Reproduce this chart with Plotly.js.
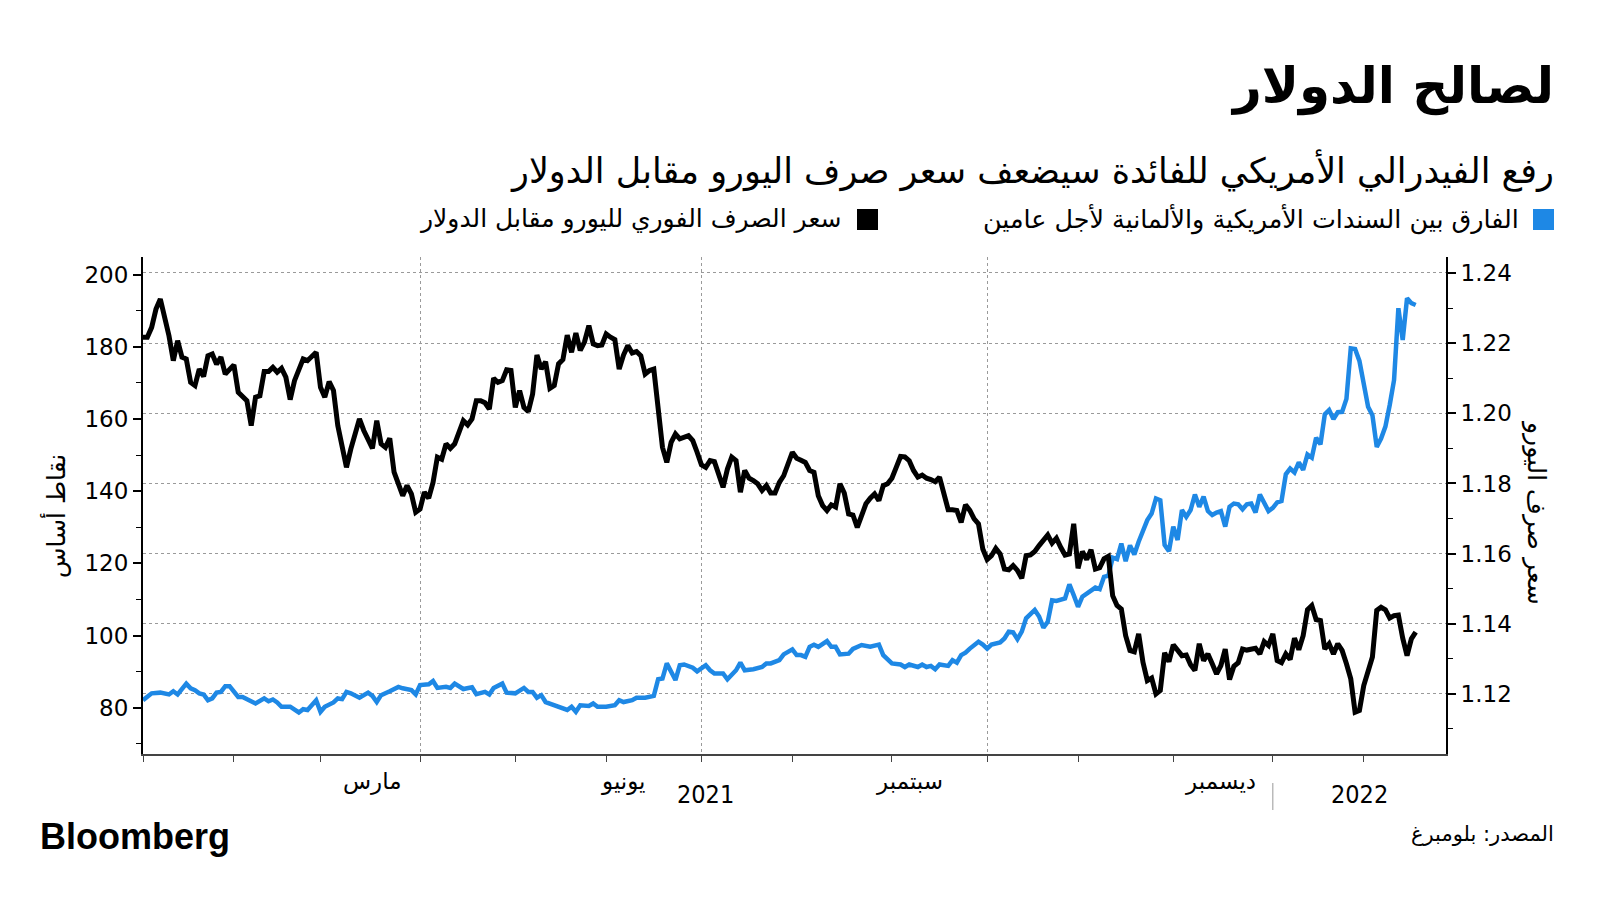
<!DOCTYPE html>
<html>
<head>
<meta charset="utf-8">
<script src="https://cdn.plot.ly/plotly-3.0.1.min.js"></script>
<style>
html,body{margin:0;padding:0;background:#fff;}
#chart{width:1600px;height:900px;}
</style>
</head>
<body>
<div id="chart"></div>
<script>
// EUR/USD spot (right axis)
const eurDates = ['2021-01-01','2021-01-04','2021-01-05','2021-01-06','2021-01-07','2021-01-08','2021-01-11','2021-01-12','2021-01-13','2021-01-14','2021-01-15','2021-01-18','2021-01-19','2021-01-20','2021-01-21','2021-01-22','2021-01-25','2021-01-26','2021-01-27','2021-01-28',
'2021-02-01','2021-02-02','2021-02-04','2021-02-05','2021-02-08','2021-02-09','2021-02-10','2021-02-11','2021-02-12','2021-02-15','2021-02-16','2021-02-17','2021-02-18','2021-02-19','2021-02-23','2021-02-24','2021-02-26',
'2021-03-01','2021-03-02','2021-03-03','2021-03-04','2021-03-05','2021-03-08','2021-03-09','2021-03-10','2021-03-12','2021-03-15','2021-03-17','2021-03-18','2021-03-19','2021-03-22','2021-03-23','2021-03-24','2021-03-26','2021-03-29','2021-03-30','2021-03-31',
'2021-04-01','2021-04-02','2021-04-05','2021-04-06','2021-04-07','2021-04-08','2021-04-09','2021-04-12','2021-04-13','2021-04-15','2021-04-16','2021-04-19','2021-04-20','2021-04-21','2021-04-22','2021-04-23','2021-04-26','2021-04-27','2021-04-28','2021-04-29','2021-04-30',
'2021-05-03','2021-05-04','2021-05-05','2021-05-06','2021-05-07','2021-05-10','2021-05-11','2021-05-12','2021-05-13','2021-05-14','2021-05-17','2021-05-18','2021-05-19','2021-05-20','2021-05-21','2021-05-24','2021-05-25','2021-05-26','2021-05-27','2021-05-28','2021-05-31',
'2021-06-01','2021-06-02','2021-06-03','2021-06-04','2021-06-07','2021-06-08','2021-06-09','2021-06-10','2021-06-11','2021-06-14','2021-06-15','2021-06-16','2021-06-17','2021-06-18','2021-06-21','2021-06-22','2021-06-23','2021-06-24','2021-06-28','2021-06-29','2021-06-30',
'2021-07-01','2021-07-02','2021-07-05','2021-07-06','2021-07-07','2021-07-08','2021-07-09','2021-07-12','2021-07-13','2021-07-14','2021-07-15','2021-07-16','2021-07-19','2021-07-20','2021-07-21','2021-07-22','2021-07-23','2021-07-26','2021-07-27','2021-07-28','2021-07-30',
'2021-08-02','2021-08-03','2021-08-04','2021-08-05','2021-08-06','2021-08-09','2021-08-10','2021-08-11','2021-08-12','2021-08-13','2021-08-16','2021-08-17','2021-08-18','2021-08-19','2021-08-20','2021-08-23','2021-08-24','2021-08-25','2021-08-26','2021-08-27','2021-08-30','2021-08-31',
'2021-09-01','2021-09-02','2021-09-03','2021-09-06','2021-09-07','2021-09-08','2021-09-09','2021-09-10','2021-09-13','2021-09-14','2021-09-15','2021-09-16','2021-09-17','2021-09-20','2021-09-21','2021-09-22','2021-09-23','2021-09-24','2021-09-27','2021-09-28','2021-09-29','2021-09-30',
'2021-10-01','2021-10-04','2021-10-05','2021-10-06','2021-10-07','2021-10-08','2021-10-11','2021-10-12','2021-10-13','2021-10-14','2021-10-15','2021-10-18','2021-10-19','2021-10-20','2021-10-21','2021-10-22','2021-10-25','2021-10-26','2021-10-27','2021-10-28','2021-10-29',
'2021-11-01','2021-11-02','2021-11-03','2021-11-04','2021-11-05','2021-11-08','2021-11-09','2021-11-10','2021-11-11','2021-11-12','2021-11-15','2021-11-16','2021-11-17','2021-11-18','2021-11-19','2021-11-22','2021-11-23','2021-11-24','2021-11-25','2021-11-26','2021-11-29','2021-11-30',
'2021-12-01','2021-12-02','2021-12-03','2021-12-06','2021-12-07','2021-12-08','2021-12-09','2021-12-10','2021-12-13','2021-12-14','2021-12-15','2021-12-16','2021-12-17','2021-12-20','2021-12-21','2021-12-22','2021-12-23','2021-12-24','2021-12-27','2021-12-28','2021-12-29','2021-12-30','2021-12-31',
'2022-01-03','2022-01-04','2022-01-05','2022-01-06','2022-01-07','2022-01-10','2022-01-11','2022-01-12','2022-01-13','2022-01-14','2022-01-17','2022-01-18','2022-01-19','2022-01-20','2022-01-21','2022-01-24','2022-01-25','2022-01-26','2022-01-27','2022-01-28','2022-01-31',
'2022-02-01','2022-02-02','2022-02-03','2022-02-04','2022-02-07','2022-02-08','2022-02-09','2022-02-10','2022-02-11','2022-02-14','2022-02-15','2022-02-16','2022-02-17'];
const eurValues = [1.2217,1.2217,1.2245,1.2297,1.2326,1.2274,1.2221,1.2150,1.2207,1.2160,1.2155,1.2088,1.2079,1.2126,1.2105,1.2164,1.2169,1.2140,1.2160,1.2112,
1.2138,1.2060,1.2036,1.1965,1.2046,1.2050,1.2119,1.2119,1.2131,1.2117,1.2128,1.2103,1.2039,1.2093,1.2155,1.2150,1.2174,
1.2074,1.2046,1.2090,1.2065,1.1965,1.1908,1.1846,1.1898,1.1984,1.1951,1.1900,1.1979,1.1913,1.1903,1.1929,1.1832,1.1765,1.1794,1.1770,1.1718,
1.1727,1.1775,1.1758,1.1803,1.1875,1.1869,1.1913,1.1900,1.1913,1.1979,1.1967,1.1984,1.2036,1.2036,1.2030,1.2012,1.2100,1.2088,1.2093,1.2124,1.2122,
1.2017,1.2065,1.2017,1.2005,1.2055,1.2166,1.2126,1.2147,1.2071,1.2079,1.2141,1.2153,1.2223,1.2174,1.2229,1.2179,1.2204,1.2250,1.2198,1.2193,1.2195,
1.2226,1.2217,1.2210,1.2126,1.2166,1.2193,1.2172,1.2176,1.2164,1.2112,1.2122,1.2126,1.2003,1.1903,1.1860,1.1917,1.1941,1.1927,1.1936,1.1922,1.1889,
1.1853,1.1846,1.1865,1.1862,1.1822,1.1789,1.1841,1.1875,1.1865,1.1775,1.1837,1.1815,1.1808,1.1799,1.1780,1.1794,1.1773,1.1773,1.1803,1.1822,1.1889,
1.1872,1.1866,1.1860,1.1837,1.1832,1.1765,1.1737,1.1723,1.1739,1.1733,1.1799,1.1773,1.1713,1.1710,1.1675,1.1708,1.1742,1.1758,1.1770,1.1751,1.1794,1.1799,
1.1815,1.1846,1.1877,1.1876,1.1865,1.1837,1.1818,1.1824,1.1815,1.1811,1.1805,1.1818,1.1767,1.1725,1.1725,1.1723,1.1689,1.1739,1.1723,1.1699,1.1685,1.1613,
1.1583,1.1594,1.1615,1.1599,1.1556,1.1554,1.1566,1.1552,1.1530,1.1594,1.1596,1.1606,1.1623,1.1637,1.1653,1.1630,1.1644,1.1618,1.1596,1.1599,1.1685,
1.1558,1.1606,1.1583,1.1611,1.1556,1.1560,1.1585,1.1592,1.1480,1.1452,1.1442,1.1366,1.1324,1.1320,1.1371,1.1290,1.1238,1.1245,1.1200,1.1210,1.1317,1.1292,
1.1340,1.1324,1.1309,1.1311,1.1283,1.1267,1.1343,1.1295,1.1314,1.1286,1.1257,1.1281,1.1328,1.1241,1.1279,1.1289,1.1328,1.1325,1.1328,1.1330,1.1314,1.1349,1.1338,
1.1371,1.1295,1.1289,1.1314,1.1298,1.1359,1.1326,1.1366,1.1440,1.1452,1.1412,1.1409,1.1328,1.1343,1.1314,1.1343,1.1324,1.1286,1.1243,1.1148,1.1153,
1.1224,1.1267,1.1305,1.1438,1.1447,1.1440,1.1416,1.1423,1.1425,1.1359,1.1309,1.1357,1.1376];

// US-German 2-year yield spread, basis points (left axis)
const spreadDates = ['2021-01-01','2021-01-04','2021-01-05','2021-01-07','2021-01-11','2021-01-12','2021-01-13','2021-01-15','2021-01-18','2021-01-19','2021-01-20','2021-01-21','2021-01-22','2021-01-25','2021-01-26','2021-01-27','2021-01-28','2021-01-29',
'2021-02-01','2021-02-02','2021-02-03','2021-02-04','2021-02-08','2021-02-10','2021-02-11','2021-02-12','2021-02-15','2021-02-16','2021-02-18','2021-02-22','2021-02-23','2021-02-24','2021-02-26',
'2021-03-01','2021-03-02','2021-03-04','2021-03-05','2021-03-08','2021-03-09','2021-03-10','2021-03-12','2021-03-16','2021-03-17','2021-03-18','2021-03-19','2021-03-23','2021-03-25','2021-03-26','2021-03-29','2021-03-30','2021-03-31',
'2021-04-01','2021-04-05','2021-04-06','2021-04-07','2021-04-09','2021-04-12','2021-04-13','2021-04-15','2021-04-16','2021-04-19','2021-04-20','2021-04-21','2021-04-22','2021-04-23','2021-04-26','2021-04-28','2021-04-29',
'2021-05-03','2021-05-05','2021-05-06','2021-05-07','2021-05-10','2021-05-11','2021-05-12','2021-05-14','2021-05-17','2021-05-19','2021-05-20','2021-05-21','2021-05-24','2021-05-26','2021-05-27','2021-05-28',
'2021-06-01','2021-06-03','2021-06-04','2021-06-07','2021-06-09','2021-06-10','2021-06-14','2021-06-16','2021-06-17','2021-06-18','2021-06-21','2021-06-22','2021-06-23','2021-06-24','2021-06-25','2021-06-29','2021-06-30',
'2021-07-02','2021-07-05','2021-07-06','2021-07-08','2021-07-09','2021-07-12','2021-07-13','2021-07-14','2021-07-15','2021-07-19','2021-07-21','2021-07-22','2021-07-23','2021-07-27','2021-07-28','2021-07-30',
'2021-08-02','2021-08-03','2021-08-04','2021-08-05','2021-08-06','2021-08-09','2021-08-11','2021-08-12','2021-08-13','2021-08-16','2021-08-18','2021-08-19','2021-08-23','2021-08-25','2021-08-27','2021-08-30',
'2021-09-01','2021-09-03','2021-09-06','2021-09-07','2021-09-09','2021-09-10','2021-09-13','2021-09-14','2021-09-15','2021-09-16','2021-09-20','2021-09-21','2021-09-22','2021-09-23','2021-09-24','2021-09-27','2021-09-29','2021-09-30',
'2021-10-01','2021-10-04','2021-10-06','2021-10-07','2021-10-08','2021-10-11','2021-10-12','2021-10-13','2021-10-14','2021-10-18','2021-10-19','2021-10-20','2021-10-21','2021-10-22','2021-10-25','2021-10-27','2021-10-28','2021-10-29',
'2021-11-01','2021-11-02','2021-11-03','2021-11-04','2021-11-05','2021-11-08','2021-11-09','2021-11-10','2021-11-11','2021-11-12','2021-11-15','2021-11-16','2021-11-17','2021-11-18','2021-11-19','2021-11-23','2021-11-24','2021-11-25','2021-11-26','2021-11-29','2021-11-30',
'2021-12-01','2021-12-02','2021-12-03','2021-12-06','2021-12-07','2021-12-08','2021-12-09','2021-12-10','2021-12-13','2021-12-14','2021-12-15','2021-12-16','2021-12-17','2021-12-20','2021-12-21','2021-12-22','2021-12-23','2021-12-24','2021-12-27','2021-12-28','2021-12-29','2021-12-30','2021-12-31',
'2022-01-03','2022-01-04','2022-01-05','2022-01-06','2022-01-07','2022-01-10','2022-01-11','2022-01-12','2022-01-13','2022-01-14','2022-01-17','2022-01-18','2022-01-19','2022-01-20','2022-01-21','2022-01-24','2022-01-25','2022-01-26','2022-01-27','2022-01-28','2022-01-31',
'2022-02-01','2022-02-02','2022-02-03','2022-02-04','2022-02-07','2022-02-08','2022-02-09','2022-02-10','2022-02-11','2022-02-14','2022-02-15','2022-02-16','2022-02-17'];
const spreadValues = [82.1,83.0,84.0,84.2,83.7,84.6,83.7,86.7,85.4,84.9,84.0,83.7,82.1,82.6,84.2,84.4,86.0,86.0,
84.4,83.0,83.0,82.4,81.2,82.6,81.8,82.3,81.5,80.3,80.3,78.7,79.6,79.4,82.1,
78.9,80.3,81.5,82.6,82.4,84.4,84.0,82.8,84.2,83.3,81.6,83.5,84.6,85.8,85.4,85.2,84.9,83.7,
86.3,86.5,87.4,85.5,85.8,85.5,86.7,85.2,85.4,85.7,83.8,84.2,84.4,83.7,85.5,86.7,84.2,
84.0,85.5,84.4,84.4,82.8,83.5,81.6,80.7,80.3,79.4,80.3,78.9,80.7,80.5,81.2,80.3,
80.3,80.7,82.1,81.6,82.1,82.8,82.8,83.3,87.9,88.1,92.3,90.1,87.7,91.8,92.0,91.1,90.1,
91.8,90.4,89.5,89.5,87.9,89.2,90.4,92.5,90.4,90.7,91.3,92.3,92.3,93.2,94.8,96.2,
94.6,94.6,94.1,96.9,97.5,96.9,98.5,96.9,96.9,94.8,95.0,96.3,97.4,96.9,97.5,94.6,
92.3,92.0,91.3,92.0,91.3,92.0,91.3,91.6,90.7,92.0,91.6,93.2,92.5,94.6,95.3,96.4,98.3,97.5,
96.4,97.5,98.1,99.2,101.1,100.9,99.0,101.1,104.8,107.1,105.3,102.2,103.8,109.8,109.6,110.3,114.2,111.2,
108.0,110.8,111.7,112.3,113.3,112.9,116.3,116.6,121.6,121.2,125.5,120.6,125.0,122.5,126.0,132.0,133.8,138.0,137.5,125.1,123.4,
130.2,126.5,134.8,132.9,134.8,139.1,135.7,138.5,134.5,133.4,134.1,134.5,130.2,135.7,136.6,136.4,135.0,136.4,136.6,134.1,139.1,137.1,134.5,
135.4,136.9,137.3,144.7,146.3,145.2,148.0,145.9,150.2,149.3,154.8,153.0,161.3,162.5,160.0,161.9,162.0,165.6,179.6,179.4,176.1,
170.4,163.4,161.1,152.3,154.6,157.9,163.9,170.8,190.7,181.9,193.5,192.1,191.6];

// Axis tick labels
const monthLabelDates = ['2021-03-17','2021-06-07','2021-09-07','2021-12-16'];
const monthLabels = ['مارس','يونيو','سبتمبر','ديسمبر'];
const yearLabelDates = ['2021-07-02','2022-01-31'];
const yearLabels = ['2021','2022'];
const leftTicks = [80,100,120,140,160,180,200];
const rightTicks = [1.12,1.14,1.16,1.18,1.20,1.22,1.24];
const quarterStarts = ['2021-04-01','2021-07-01','2021-10-01','2022-01-01'];

const titleText = 'لصالح الدولار';
const subtitleText = 'رفع الفيدرالي الأمريكي للفائدة سيضعف سعر صرف اليورو مقابل الدولار';
const spreadName = 'الفارق بين السندات الأمريكية والألمانية لأجل عامين';
const eurName = 'سعر الصرف الفوري لليورو مقابل الدولار';
const leftTitle = 'نقاط أساس';
const rightTitle = 'سعر صرف اليورو';
const sourceText = 'المصدر: بلومبرغ';

const BLUE = '#1e88e5';
const AR = 'DejaVu Sans, sans-serif';
const NUM = 'DejaVu Sans, sans-serif';

// plot area in pixels: x 143..1446, y 257..754
const L = 143, R = 1446, T = 257, B = 754;
const px = x => (x - L) / (R - L);
const py = y => (B - y) / (B - T);

const traces = [
  {x: spreadDates, y: spreadValues, type: 'scatter', mode: 'lines', name: spreadName,
   line: {color: BLUE, width: 4.5, shape: 'linear'}, yaxis: 'y', hoverinfo: 'skip'},
  {x: eurDates, y: eurValues, type: 'scatter', mode: 'lines', name: eurName,
   line: {color: '#000', width: 5, shape: 'linear'}, yaxis: 'y2', hoverinfo: 'skip'}
];

const annotations = [];
annotations.push({xref:'paper', yref:'paper', x: px(1556), y: py(86), xanchor:'right', yanchor:'middle',
  text: '<b>' + titleText + '</b>', showarrow:false, font:{family: AR, size: 50, color:'#000'}});
annotations.push({xref:'paper', yref:'paper', x: px(1556), y: py(170), xanchor:'right', yanchor:'middle',
  text: subtitleText, showarrow:false, font:{family: AR, size: 35, color:'#000'}});
annotations.push({xref:'paper', yref:'paper', x: px(1521), y: py(219), xanchor:'right', yanchor:'middle',
  text: spreadName, showarrow:false, font:{family: AR, size: 25.4, color:'#000'}});
annotations.push({xref:'paper', yref:'paper', x: px(843), y: py(219), xanchor:'right', yanchor:'middle',
  text: eurName, showarrow:false, font:{family: AR, size: 25, color:'#000'}});
annotations.push({xref:'paper', yref:'paper', x: px(55), y: py(516), xanchor:'center', yanchor:'middle',
  text: leftTitle, textangle: -90, showarrow:false, font:{family: AR, size: 25, color:'#000'}});
annotations.push({xref:'paper', yref:'paper', x: px(1536), y: py(512), xanchor:'center', yanchor:'middle',
  text: rightTitle, textangle: 90, showarrow:false, font:{family: AR, size: 25, color:'#000'}});
monthLabelDates.forEach((d, i) => annotations.push({xref:'x', yref:'paper', x: d, y: py(781),
  xanchor:'center', yanchor:'middle', text: monthLabels[i], showarrow:false,
  font:{family: AR, size: 23, color:'#000'}}));
yearLabelDates.forEach((d, i) => annotations.push({xref:'x', yref:'paper', x: d, y: py(794),
  xanchor:'center', yanchor:'middle', text: yearLabels[i], showarrow:false,
  font:{family: 'DejaVu Sans Condensed, DejaVu Sans, sans-serif', size: 25, color:'#000'}}));
annotations.push({xref:'paper', yref:'paper', x: px(38), y: py(836), xanchor:'left', yanchor:'middle',
  text: '<b>Bloomberg</b>', showarrow:false, font:{family: 'Liberation Sans, Arial, sans-serif', size: 36, color:'#000'}});
annotations.push({xref:'paper', yref:'paper', x: px(1556), y: py(834), xanchor:'right', yanchor:'middle',
  text: sourceText, showarrow:false, font:{family: AR, size: 21, color:'#000'}});

const shapes = [
  {type:'rect', xref:'paper', yref:'paper', x0: px(1533), x1: px(1554), y0: py(230), y1: py(209),
   fillcolor: BLUE, line:{width:0}},
  {type:'rect', xref:'paper', yref:'paper', x0: px(857), x1: px(878), y0: py(230), y1: py(209),
   fillcolor: '#000', line:{width:0}},
  {type:'line', xref:'x', yref:'paper', x0: '2022-01-01', x1: '2022-01-01', y0: py(783), y1: py(810),
   line:{color:'#999', width:1}}
];

const layout = {
  width: 1600, height: 900,
  margin: {l: L, r: 1600 - R, t: T, b: 900 - B, pad: 0},
  paper_bgcolor: '#fff', plot_bgcolor: '#fff',
  showlegend: false,
  xaxis: {
    type: 'date', range: ['2021-01-01', '2022-02-28'],
    rangebreaks: [{bounds: ['sat', 'mon']}],
    tickmode: 'array', tickvals: quarterStarts, showticklabels: false,
    ticks: 'outside', ticklen: 6, tickwidth: 1, tickcolor: '#444',
    showgrid: true, gridcolor: '#9a9a9a', griddash: 'dot', gridwidth: 1,
    showline: true, linecolor: '#444', linewidth: 1.5,
    minor: {dtick: 'M1', tick0: '2021-01-01', ticks: 'outside', ticklen: 6, tickwidth: 1, tickcolor: '#444', showgrid: false},
    zeroline: false, fixedrange: true
  },
  yaxis: {
    range: [67.2, 204.9], tickmode: 'array', tickvals: leftTicks,
    ticks: 'outside', ticklen: 8, tickwidth: 2, tickcolor: '#000',
    minor: {dtick: 10, tick0: 0, ticks: 'outside', ticklen: 5, tickwidth: 1, tickcolor: '#000', showgrid: false},
    showline: true, linecolor: '#000', linewidth: 2, showgrid: false, zeroline: false,
    tickfont: {family: NUM, size: 23, color: '#000'}, fixedrange: true
  },
  yaxis2: {
    overlaying: 'y', side: 'right', range: [1.10287, 1.24456],
    tickmode: 'array', tickvals: rightTicks, tickformat: '.2f',
    ticks: 'outside', ticklen: 8, tickwidth: 2, tickcolor: '#000',
    minor: {dtick: 0.01, tick0: 1.1, ticks: 'outside', ticklen: 5, tickwidth: 1, tickcolor: '#000', showgrid: false},
    showline: true, linecolor: '#000', linewidth: 2,
    showgrid: true, gridcolor: '#9a9a9a', griddash: 'dot', gridwidth: 1, zeroline: false,
    tickfont: {family: NUM, size: 23, color: '#000'}, fixedrange: true
  },
  annotations: annotations,
  shapes: shapes
};

Plotly.newPlot('chart', traces, layout, {displayModeBar: false, staticPlot: true});
</script>
</body>
</html>
